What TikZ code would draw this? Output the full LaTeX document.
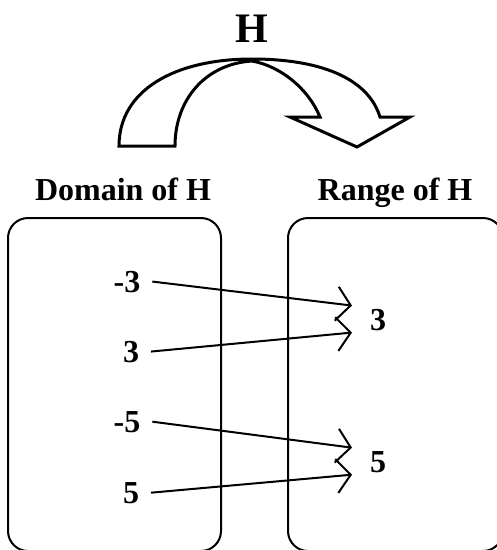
\documentclass[tikz,border=0pt]{standalone}
\usepackage{fontspec}
\setmainfont{Liberation Serif}
\usepackage{xcolor}
\definecolor{cInk}{HTML}{000000}
\usepackage{tikz}
\usetikzlibrary{arrows.meta}
\tikzset{
  set-box/.style={draw=cInk,line width=2pt,rounded corners=20pt},
  set-title/.style={anchor=base,inner sep=0pt,font=\fontsize{32}{38}\selectfont\bfseries},
  dom-num/.style={anchor=base,inner sep=0pt,outer sep=12pt,font=\fontsize{32}{38}\selectfont\bfseries},
  rng-num/.style={anchor=base,inner sep=0pt,outer sep=18pt,font=\fontsize{32}{38}\selectfont\bfseries},
  map-arrow/.style={-{Straight Barb[length=14pt,width=34pt,line width=2pt]},line width=2pt,draw=cInk},
  big-arrow/.style={draw=cInk,line width=3pt,line join=miter},
}
\begin{document}
\begin{tikzpicture}[x=1pt,y=-1pt]
  \useasboundingbox (0,0) rectangle (497,550);
  % function name and the bent arrow
  \node[anchor=base,inner sep=0pt,font=\fontsize{42}{48}\selectfont\bfseries] (fname) at (252,42) {H};
  \draw[big-arrow] (119,146) -- (175,146)
    .. controls (175,100) and (205,64) .. (252,61)
    .. controls (280,66) and (308,88) .. (320,117)
    -- (290,117) -- (357,147) -- (410,117) -- (380,117)
    .. controls (368,78) and (320,59) .. (252,59)
    .. controls (175,59) and (119,90) .. (119,146) -- cycle;
  % the two sets
  \node[set-title] (domtitle) at (123,200) {Domain of H};
  \node[set-title] (rngtitle) at (395,200) {Range of H};
  \draw[set-box] (8,218) rectangle (221,551);
  \draw[set-box] (288,218) rectangle (503,551);
  % elements
  \node[dom-num] (dm3) at (127,292) {-3};
  \node[dom-num] (dp3) at (131,362) {3};
  \node[dom-num] (dm5) at (127,432) {-5};
  \node[dom-num] (dp5) at (131,503) {5};
  \node[rng-num] (r3) at (378,330) {3};
  \node[rng-num] (r5) at (378,472) {5};
  % mapping
  \draw[map-arrow] (dm3.east) -- ([yshift=14pt]r3.west);
  \draw[map-arrow] (dp3.east) -- ([yshift=-13pt]r3.west);
  \draw[map-arrow] (dm5.east) -- ([yshift=14pt]r5.west);
  \draw[map-arrow] (dp5.east) -- ([yshift=-13pt]r5.west);
\end{tikzpicture}
\end{document}
